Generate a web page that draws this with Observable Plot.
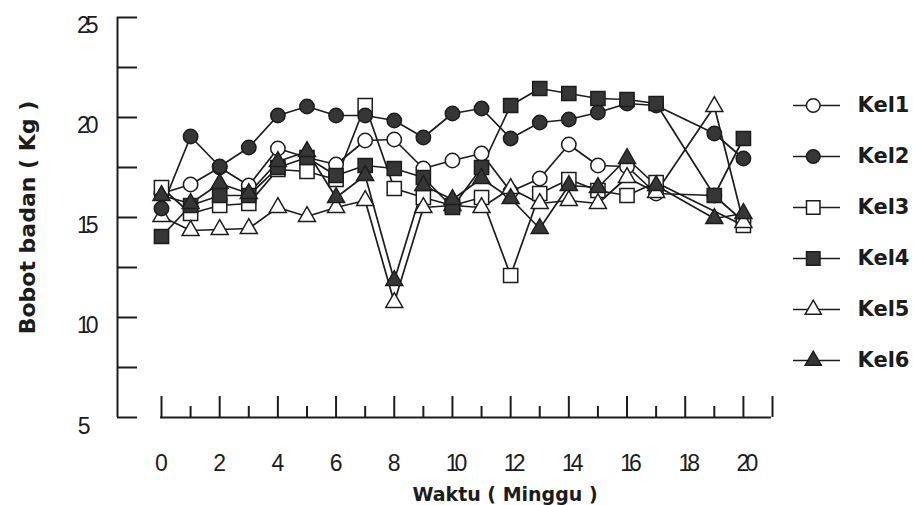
<!DOCTYPE html>
<html><head><meta charset="utf-8">
<script src="https://cdn.jsdelivr.net/npm/d3@7"></script>
<script src="https://cdn.jsdelivr.net/npm/@observablehq/plot@0.6"></script>
<style>
html,body{margin:0;padding:0;background:#fff;}
#wrap{position:relative;width:913px;height:505px;}
#wrap svg{position:absolute;left:0;top:0;}
g.tight text{letter-spacing:-4px;}
</style></head><body><div id="wrap"></div>
<script>
// ---- data ----
const weeks = [0,1,2,3,4,5,6,7,8,9,10,11,12,13,14,15,16,17,19,20];
const kel1 = [16.2,16.65,17.5,16.6,18.45,18.0,17.65,18.85,18.9,17.45,17.85,18.2,16.3,16.95,18.65,17.6,17.55,16.2,16.1,14.8];
const kel2 = [15.45,19.05,17.55,18.5,20.1,20.55,20.1,20.1,19.85,19.0,20.2,20.45,18.95,19.75,19.9,20.25,20.7,20.6,19.2,17.95];
const kel3 = [16.5,15.2,15.6,15.7,17.4,17.3,16.9,20.6,16.45,16.0,15.6,16.0,12.1,16.2,16.9,16.35,16.1,16.75,null,14.6];
const kel4 = [14.05,15.6,16.1,16.1,17.5,18.0,17.1,17.6,17.45,17.0,15.5,17.5,20.6,21.45,21.2,20.95,20.9,20.7,16.1,18.95];
const kel5 = [15.05,14.35,14.4,14.45,15.5,15.05,15.5,15.85,10.75,15.5,15.6,15.5,16.45,15.7,15.85,15.7,17.0,16.25,20.55,14.75];
const kel6 = [16.1,15.7,16.7,16.2,17.8,18.3,16.0,17.1,11.85,16.6,15.9,16.95,15.95,14.45,16.6,16.5,17.95,16.6,14.95,15.2];
const seriesNames = ["Kel1","Kel2","Kel3","Kel4","Kel5","Kel6"];
const seriesValues = {Kel1: kel1, Kel2: kel2, Kel3: kel3, Kel4: kel4, Kel5: kel5, Kel6: kel6};
const yTicks = [5,7.5,10,12.5,15,17.5,20,22.5,25];
const yTickLabels = [5,10,15,20,25];
const xTicks = [0,1,2,3,4,5,6,7,8,9,10,11,12,13,14,15,16,17,18,19,20,21];
const xTickLabels = [0,2,4,6,8,10,12,14,16,18,20];
const xTitle = "Waktu ( Minggu )";
const yTitle = "Bobot badan ( Kg )";

// ---- styles ----
const ink = "#1c1c1c";
const darkFill = "#363636";
const style = {
  Kel1: {symbol: "circle", fill: "white", r: 7.2},
  Kel2: {symbol: "circle", fill: darkFill, r: 7.2},
  Kel3: {symbol: "square", fill: "white", r: 8},
  Kel4: {symbol: "square", fill: darkFill, r: 8},
  Kel5: {symbol: "triangle", fill: "white", r: 6.3},
  Kel6: {symbol: "triangle", fill: darkFill, r: 6.3}
};
const drawOrder = ["Kel1","Kel3","Kel5","Kel2","Kel4","Kel6"];

function rowsOf(name) {
  return weeks.map((w, i) => ({week: w, value: seriesValues[name][i], series: name}))
              .filter(d => d.value != null);
}

const W = 913, H = 505;
const mL = 161, mR = 141, mT = 17, mB = 88;
const pxPerWeek = (W - mL - mR) / 21;
const pxPerKg = (H - mT - mB) / 20;
const axisShift = -44;          // y-axis line sits left of the x origin
const yTickLen = 20 / pxPerWeek;
const tallTick = 21 / pxPerKg, shortTick = 11 / pxPerKg;

const numFont = {fontFamily: "Liberation Sans, Arial, sans-serif", fontSize: 23, fill: ink};
const titleFont = {fontFamily: "DejaVu Sans, sans-serif", fontWeight: "bold", fill: ink};

const marks = [];
// axes
marks.push(Plot.ruleX([0], {y1: 5, y2: 25, dx: axisShift, stroke: ink, strokeWidth: 2}));
marks.push(Plot.ruleY(yTicks, {y: d => d, x1: 0, x2: yTickLen, dx: axisShift, stroke: ink, strokeWidth: 2}));
marks.push(Plot.ruleY([5], {x1: 0, x2: 21, dx: -1, stroke: ink, strokeWidth: 2}));
marks.push(Plot.ruleX(xTicks, {x: d => d, y1: 5, y2: d => 5 + ((d % 2 === 0 || d === 21) ? tallTick : shortTick), stroke: ink, strokeWidth: 2}));
// y tick labels
marks.push(Plot.text(yTickLabels.filter(d => d < 10), {x: 0, y: d => d, text: d => String(d), dx: axisShift - 27, dy: 9, textAnchor: "end", ...numFont}));
marks.push(Plot.text(yTickLabels.filter(d => d >= 10), {x: 0, y: d => d, text: d => String(d), dx: axisShift - 23, dy: 8, textAnchor: "end", className: "tight", ...numFont}));
// x tick labels
marks.push(Plot.text(xTickLabels.filter(d => d < 10), {x: d => d, y: 5, text: d => String(d), dy: 46, ...numFont}));
marks.push(Plot.text(xTickLabels.filter(d => d >= 10), {x: d => d, y: 5, text: d => String(d), dy: 46, dx: 2, className: "tight", ...numFont}));
// titles
marks.push(Plot.text([xTitle], {frameAnchor: "bottom", textAnchor: "middle", lineAnchor: "middle", dx: 38, dy: 77, fontSize: 19, ...titleFont}));
marks.push(Plot.text([yTitle], {frameAnchor: "left", textAnchor: "middle", lineAnchor: "middle", rotate: -90, dx: -134, dy: 0, fontSize: 22, ...titleFont}));
// lines
for (const name of drawOrder) {
  marks.push(Plot.line(rowsOf(name), {x: "week", y: "value", stroke: ink, strokeWidth: 1.7}));
}
// markers
for (const name of drawOrder) {
  const s = style[name];
  marks.push(Plot.dot(rowsOf(name), {x: "week", y: "value", symbol: s.symbol, r: s.r, fill: s.fill, stroke: ink, strokeWidth: 1.5}));
}

const chart = Plot.plot({
  width: W, height: H,
  marginLeft: mL, marginRight: mR, marginTop: mT, marginBottom: mB,
  x: {domain: [0, 21], axis: null},
  y: {domain: [5, 25], axis: null},
  style: {background: "white", overflow: "visible"},
  marks
});

// legend overlay
const legendMarks = [
  Plot.ruleY(seriesNames, {y: d => d, x1: 0, x2: 1, stroke: ink, strokeWidth: 1.7})
];
for (const name of seriesNames) {
  const s = style[name];
  legendMarks.push(Plot.dot([name], {x: 0.42, y: d => d, symbol: s.symbol, r: s.r * 0.95, fill: s.fill, stroke: ink, strokeWidth: 1.5}));
}
legendMarks.push(Plot.text(seriesNames, {x: 1, y: d => d, dx: 17, textAnchor: "start", fontSize: 21, ...titleFont}));
const legend = Plot.plot({
  width: W, height: H,
  x: {domain: [0, 1], range: [793, 840], axis: null},
  y: {type: "point", domain: seriesNames, range: [78, 387], axis: null},
  style: {background: "transparent", overflow: "visible"},
  marks: legendMarks
});

const wrap = document.getElementById("wrap");
wrap.appendChild(chart);
wrap.appendChild(legend);
</script>
</body></html>
